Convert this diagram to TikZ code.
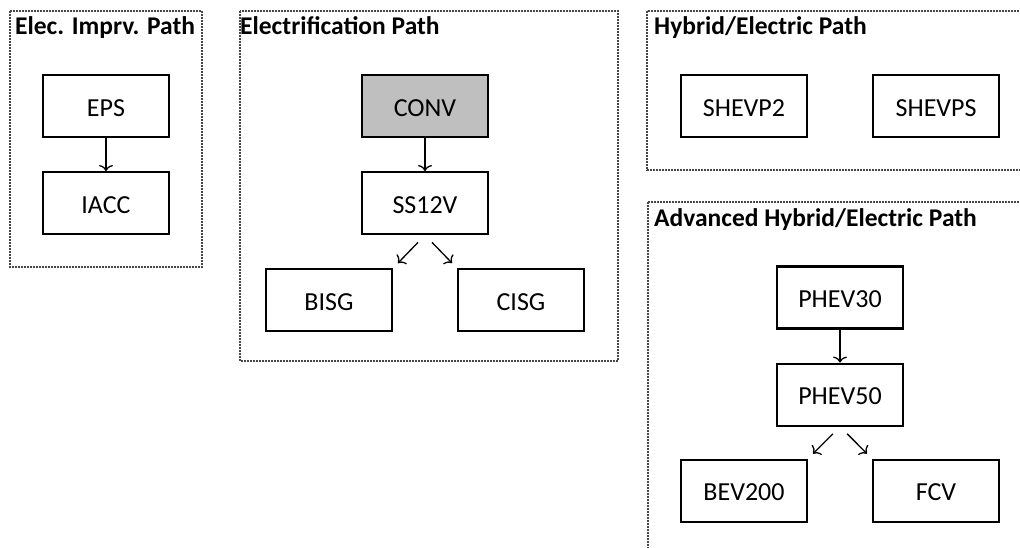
\documentclass[tikz,border=0pt]{standalone}
\usepackage{fontspec}
\setmainfont{Carlito}
\usepackage{xcolor}
\usetikzlibrary{positioning,arrows.meta}
\definecolor{ConvGray}{RGB}{191,191,191}
\definecolor{FrameGray}{RGB}{70,70,70}

\begin{document}
\begin{tikzpicture}[
    x=1pt,y=-1pt,
    box/.style={
        rectangle,
        draw=black,
        line width=2.1pt,
        fill=white,
        minimum width=126pt,
        minimum height=62pt,
        inner sep=0pt,
        text height=20.5pt,
        text depth=0pt,
        font=\fontsize{26}{30}\selectfont
    },
    frame/.style={
        draw=FrameGray,
        line width=1.1pt,
        dash pattern=on 2pt off 1pt
    },
    title/.style={
        anchor=base west,
        inner sep=0pt,
        font=\fontsize{25.5}{30}\selectfont\bfseries
    },
    arrow/.style={
        -{To[length=6pt,width=14pt]},
        line width=1.3pt,
        draw=black
    },
    fork/.style={
        arrow,
        shorten <=10pt,
        shorten >=7pt
    }
]

\clip (0,0) rectangle (1020,548);

% path frames
\draw[frame] (10,11) rectangle (202,267);
\draw[frame] (240,11) rectangle (618,361);
\draw[frame] (647,11) rectangle (1040,170);
\draw[frame] (648,202) rectangle (1040,570);

\node[title] (titleA) at (15,35) {Elec. Imprv. Path};
\node[title] (titleB) at (240,35) {Electrification Path};
\node[title] (titleC) at (654,35) {Hybrid/Electric Path};
\node[title] (titleD) at (654,227) {Advanced Hybrid/Electric Path};

% elec. improvement
\node[box] (eps) at (106,106)
{EPS};

\node[box,below=33pt of eps] (iacc)
{IACC};

\draw[arrow]
(eps) -- (iacc);

% electrification
\node[box,fill=ConvGray] (conv) at (425,106)
{CONV};

\node[box,below=33pt of conv] (ss12v)
{SS12V};

\node[box,below=33pt of ss12v,xshift=-96pt] (bisg)
{BISG};

\node[box,below=33pt of ss12v,xshift=96pt] (cisg)
{CISG};

\draw[arrow]
(conv) -- (ss12v);

\draw[fork]
(ss12v.south) -- (bisg.north east);

\draw[fork]
(ss12v.south) -- (cisg.north west);

% hybrid/electric
\node[box] (shevp2) at (744,106)
{SHEVP2};

\node[box,right=64pt of shevp2] (shevps)
{SHEVPS};

% advanced hybrid/electric
\node[box] (phev30) at (840,297.5)
{PHEV30};

\node[box,below=33pt of phev30] (phev50)
{PHEV50};

\node[box,below=32pt of phev50,xshift=-96pt] (bev200)
{BEV200};

\node[box,below=32pt of phev50,xshift=96pt] (fcv)
{FCV};

\draw[arrow]
(phev30) -- (phev50);

\draw[fork]
(phev50.south) -- (bev200.north east);

\draw[fork]
(phev50.south) -- (fcv.north west);

\end{tikzpicture}
\end{document}
